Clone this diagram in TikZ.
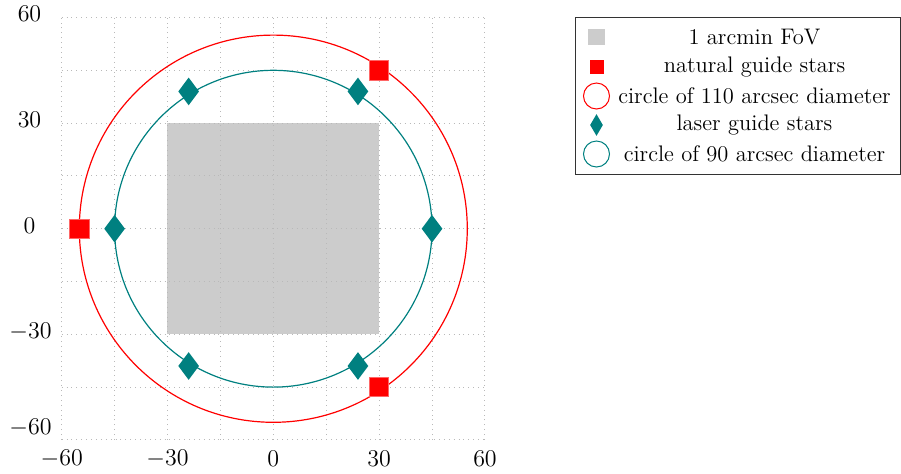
\documentclass[tikz,border=0pt]{standalone}
\usetikzlibrary{shapes.geometric}
\definecolor{fovgray}{RGB}{204,204,204}
\definecolor{tealc}{RGB}{0,128,128}
\definecolor{gridc}{RGB}{185,185,185}
\tikzset{
  ticklbl/.style={font=\fontsize{13}{15}\selectfont, inner sep=0pt, anchor=center},
  gridline/.style={gridc, dotted, line width=0.45pt},
  ngs/.style={rectangle, fill=red, draw=red!60, line width=0.3pt, inner sep=0pt, minimum size=9.6pt},
  lgs/.style={diamond, fill=tealc, inner sep=0pt, minimum width=10.5pt, minimum height=14pt},
  legtext/.style={font=\fontsize{11.25}{13}\selectfont, inner sep=0pt, anchor=center},
}
\begin{document}
\begin{tikzpicture}[x=0.5pt, y=-0.5pt]
\useasboundingbox (0,0) rectangle (901,473);
% plot area
\begin{scope}[shift={(273.3,228.7)}, x=1.7635pt, y=1.76pt]
  \fill[fovgray] (-30,-30) rectangle (30,30);
  \foreach \v in {-60,-45,...,60} {
    \draw[gridline] (\v,-60) -- (\v,60);
    \draw[gridline] (-60,\v) -- (60,\v);
  }
  \coordinate (c0) at (0,0);
  \draw[red, line width=0.6pt] (c0) circle [radius=55];
  \draw[tealc, line width=0.6pt] (c0) circle [radius=45];
  \node[ngs] (n1) at (30,45) {};
  \node[ngs] (n2) at (-55,0) {};
  \node[ngs] (n3) at (30,-45) {};
  \node[lgs] (l1) at (45,0) {};
  \node[lgs] (l2) at (24,39) {};
  \node[lgs] (l3) at (-24,39) {};
  \node[lgs] (l4) at (-45,0) {};
  \node[lgs] (l5) at (-24,-39) {};
  \node[lgs] (l6) at (24,-39) {};
\end{scope}
% x tick labels
\node[ticklbl] (xa) at (61.7,459) {$-60$};
\node[ticklbl] (xb) at (167.5,459) {$-30$};
\node[ticklbl] (xc) at (273.3,459) {$0$};
\node[ticklbl] (xd) at (379.1,459) {$30$};
\node[ticklbl] (xe) at (485,459) {$60$};
% y tick labels
\node[ticklbl] (ya) at (29.5,13.5) {$60$};
\node[ticklbl] (yb) at (29.5,120) {$30$};
\node[ticklbl] (yc) at (29.5,226) {$0$};
\node[ticklbl] (yd) at (30.5,331.5) {$-30$};
\node[ticklbl] (ye) at (30.5,428) {$-60$};
% legend
\draw[black!80, line width=0.5pt] (575,17.5) rectangle (900.3,174);
\node[rectangle, fill=fovgray, inner sep=0pt, minimum width=8.5pt, minimum height=8pt] (s1) at (596.5,37) {};
\node[rectangle, fill=red, inner sep=0pt, minimum size=7pt] (s2) at (596.5,66.5) {};
\node[circle, draw=red, line width=0.5pt, inner sep=0pt, minimum size=13pt] (s3) at (596.5,96) {};
\node[diamond, fill=tealc, inner sep=0pt, minimum width=6.5pt, minimum height=11pt] (s4) at (596.5,125) {};
\node[circle, draw=tealc, line width=0.5pt, inner sep=0pt, minimum size=13pt] (s5) at (596.5,154) {};
\node[legtext] (t1) at (754.5,37) {1 arcmin FoV};
\node[legtext] (t2) at (754.5,66.5) {natural guide stars};
\node[legtext] (t3) at (754.5,96) {circle of 110 arcsec diameter};
\node[legtext] (t4) at (754.5,125) {laser guide stars};
\node[legtext] (t5) at (754.5,154) {circle of 90 arcsec diameter};
\end{tikzpicture}
\end{document}
